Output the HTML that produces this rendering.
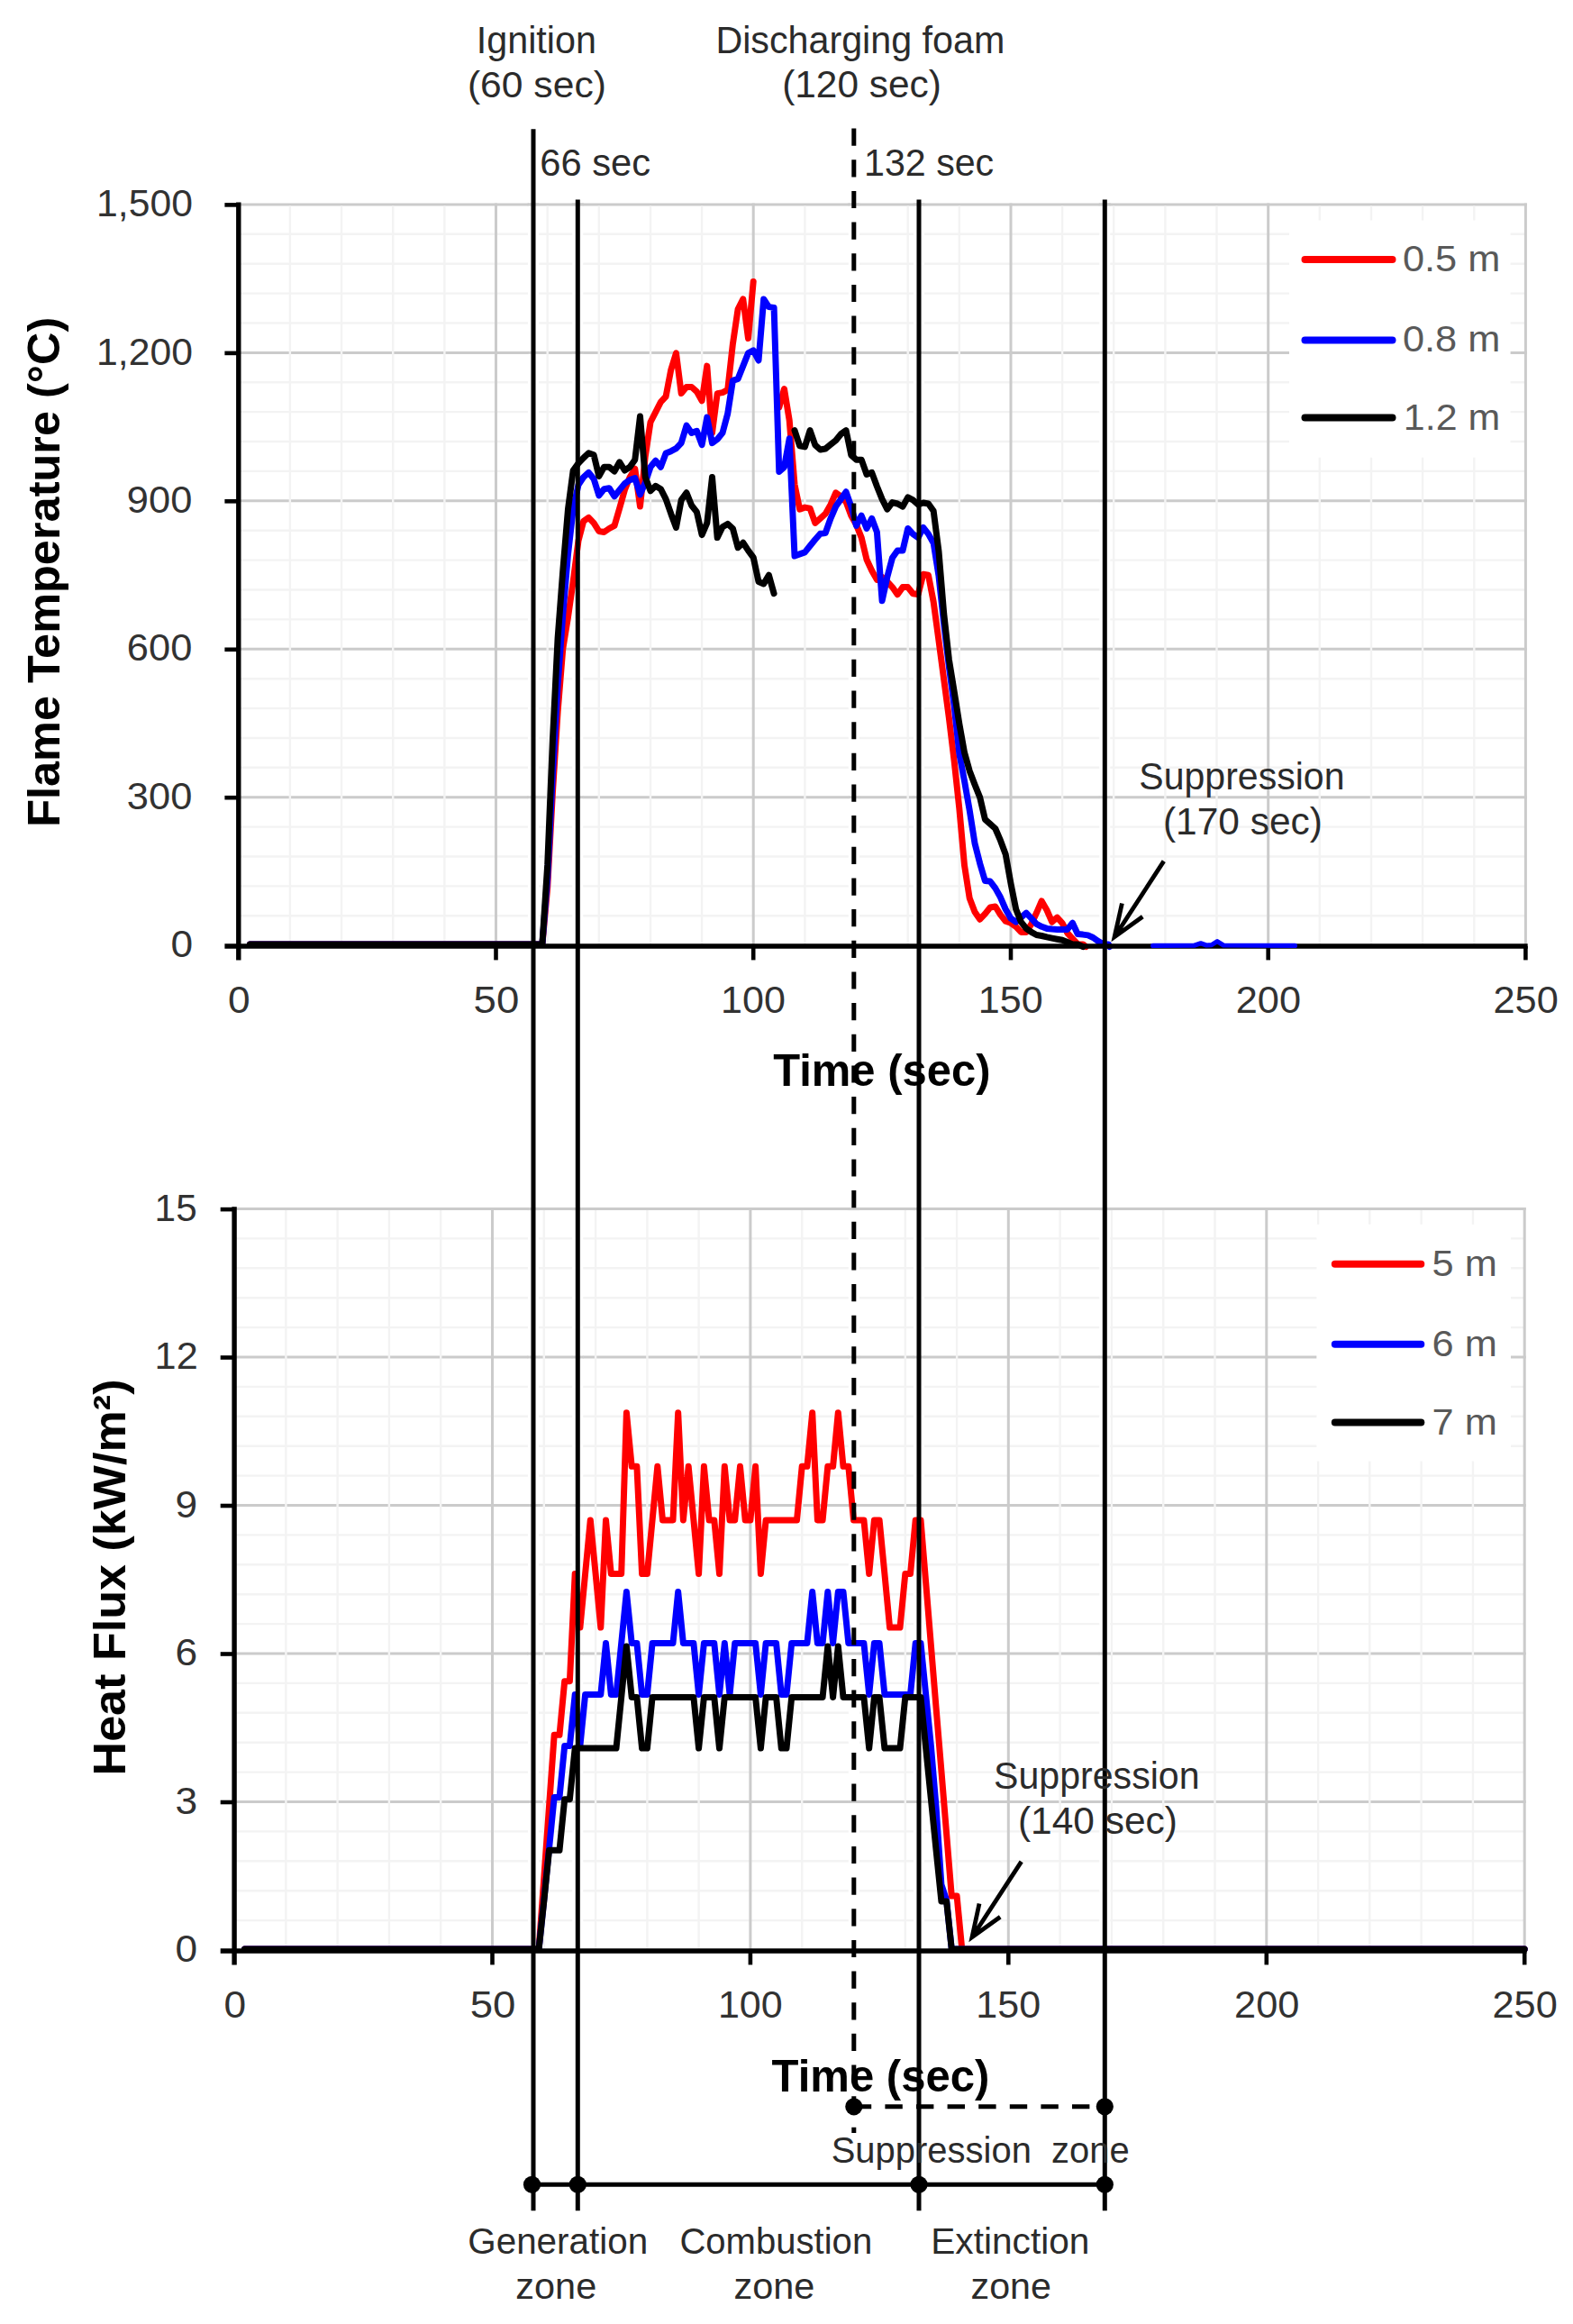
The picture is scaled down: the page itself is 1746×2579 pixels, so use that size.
<!DOCTYPE html>
<html lang="en"><head><meta charset="utf-8"><title>Flame temperature and heat flux</title>
<style>html,body{margin:0;padding:0;background:#fff}svg{display:block}</style></head>
<body>
<svg width="1746" height="2579" viewBox="0 0 1746 2579" font-family='"Liberation Sans", sans-serif'>
<rect width="1746" height="2579" fill="#fff"/>
<line x1="264.8" y1="1016.3" x2="1693.4" y2="1016.3" stroke="#f3f3f3" stroke-width="2.4"/>
<line x1="264.8" y1="983.4" x2="1693.4" y2="983.4" stroke="#f3f3f3" stroke-width="2.4"/>
<line x1="264.8" y1="950.5" x2="1693.4" y2="950.5" stroke="#f3f3f3" stroke-width="2.4"/>
<line x1="264.8" y1="917.6" x2="1693.4" y2="917.6" stroke="#f3f3f3" stroke-width="2.4"/>
<line x1="264.8" y1="851.8" x2="1693.4" y2="851.8" stroke="#f3f3f3" stroke-width="2.4"/>
<line x1="264.8" y1="819.0" x2="1693.4" y2="819.0" stroke="#f3f3f3" stroke-width="2.4"/>
<line x1="264.8" y1="786.1" x2="1693.4" y2="786.1" stroke="#f3f3f3" stroke-width="2.4"/>
<line x1="264.8" y1="753.2" x2="1693.4" y2="753.2" stroke="#f3f3f3" stroke-width="2.4"/>
<line x1="264.8" y1="687.4" x2="1693.4" y2="687.4" stroke="#f3f3f3" stroke-width="2.4"/>
<line x1="264.8" y1="654.5" x2="1693.4" y2="654.5" stroke="#f3f3f3" stroke-width="2.4"/>
<line x1="264.8" y1="621.6" x2="1693.4" y2="621.6" stroke="#f3f3f3" stroke-width="2.4"/>
<line x1="264.8" y1="588.7" x2="1693.4" y2="588.7" stroke="#f3f3f3" stroke-width="2.4"/>
<line x1="264.8" y1="522.9" x2="1693.4" y2="522.9" stroke="#f3f3f3" stroke-width="2.4"/>
<line x1="264.8" y1="490.0" x2="1693.4" y2="490.0" stroke="#f3f3f3" stroke-width="2.4"/>
<line x1="264.8" y1="457.1" x2="1693.4" y2="457.1" stroke="#f3f3f3" stroke-width="2.4"/>
<line x1="264.8" y1="424.3" x2="1693.4" y2="424.3" stroke="#f3f3f3" stroke-width="2.4"/>
<line x1="264.8" y1="358.5" x2="1693.4" y2="358.5" stroke="#f3f3f3" stroke-width="2.4"/>
<line x1="264.8" y1="325.6" x2="1693.4" y2="325.6" stroke="#f3f3f3" stroke-width="2.4"/>
<line x1="264.8" y1="292.7" x2="1693.4" y2="292.7" stroke="#f3f3f3" stroke-width="2.4"/>
<line x1="264.8" y1="259.8" x2="1693.4" y2="259.8" stroke="#f3f3f3" stroke-width="2.4"/>
<line x1="264.8" y1="884.7" x2="1694.9" y2="884.7" stroke="#cbcbcb" stroke-width="3.0"/>
<line x1="264.8" y1="720.3" x2="1694.9" y2="720.3" stroke="#cbcbcb" stroke-width="3.0"/>
<line x1="264.8" y1="555.8" x2="1694.9" y2="555.8" stroke="#cbcbcb" stroke-width="3.0"/>
<line x1="264.8" y1="391.4" x2="1694.9" y2="391.4" stroke="#cbcbcb" stroke-width="3.0"/>
<line x1="264.8" y1="226.9" x2="1694.9" y2="226.9" stroke="#cbcbcb" stroke-width="3.0"/>
<line x1="321.9" y1="228.4" x2="321.9" y2="1049.2" stroke="#f3f3f3" stroke-width="2.4"/>
<line x1="379.1" y1="228.4" x2="379.1" y2="1049.2" stroke="#f3f3f3" stroke-width="2.4"/>
<line x1="436.2" y1="228.4" x2="436.2" y2="1049.2" stroke="#f3f3f3" stroke-width="2.4"/>
<line x1="493.4" y1="228.4" x2="493.4" y2="1049.2" stroke="#f3f3f3" stroke-width="2.4"/>
<line x1="607.7" y1="228.4" x2="607.7" y2="1049.2" stroke="#f3f3f3" stroke-width="2.4"/>
<line x1="664.8" y1="228.4" x2="664.8" y2="1049.2" stroke="#f3f3f3" stroke-width="2.4"/>
<line x1="722.0" y1="228.4" x2="722.0" y2="1049.2" stroke="#f3f3f3" stroke-width="2.4"/>
<line x1="779.1" y1="228.4" x2="779.1" y2="1049.2" stroke="#f3f3f3" stroke-width="2.4"/>
<line x1="893.4" y1="228.4" x2="893.4" y2="1049.2" stroke="#f3f3f3" stroke-width="2.4"/>
<line x1="950.5" y1="228.4" x2="950.5" y2="1049.2" stroke="#f3f3f3" stroke-width="2.4"/>
<line x1="1007.7" y1="228.4" x2="1007.7" y2="1049.2" stroke="#f3f3f3" stroke-width="2.4"/>
<line x1="1064.8" y1="228.4" x2="1064.8" y2="1049.2" stroke="#f3f3f3" stroke-width="2.4"/>
<line x1="1179.1" y1="228.4" x2="1179.1" y2="1049.2" stroke="#f3f3f3" stroke-width="2.4"/>
<line x1="1236.2" y1="228.4" x2="1236.2" y2="1049.2" stroke="#f3f3f3" stroke-width="2.4"/>
<line x1="1293.4" y1="228.4" x2="1293.4" y2="1049.2" stroke="#f3f3f3" stroke-width="2.4"/>
<line x1="1350.5" y1="228.4" x2="1350.5" y2="1049.2" stroke="#f3f3f3" stroke-width="2.4"/>
<line x1="1464.8" y1="228.4" x2="1464.8" y2="1049.2" stroke="#f3f3f3" stroke-width="2.4"/>
<line x1="1522.0" y1="228.4" x2="1522.0" y2="1049.2" stroke="#f3f3f3" stroke-width="2.4"/>
<line x1="1579.1" y1="228.4" x2="1579.1" y2="1049.2" stroke="#f3f3f3" stroke-width="2.4"/>
<line x1="1636.3" y1="228.4" x2="1636.3" y2="1049.2" stroke="#f3f3f3" stroke-width="2.4"/>
<line x1="592" y1="228.4" x2="592" y2="1049.2" stroke="#fff" stroke-width="12"/>
<line x1="641.3" y1="228.4" x2="641.3" y2="1049.2" stroke="#fff" stroke-width="12"/>
<line x1="947.8" y1="228.4" x2="947.8" y2="1049.2" stroke="#fff" stroke-width="12"/>
<line x1="1020" y1="228.4" x2="1020" y2="1049.2" stroke="#fff" stroke-width="12"/>
<line x1="1226.3" y1="228.4" x2="1226.3" y2="1049.2" stroke="#fff" stroke-width="12"/>
<line x1="550.5" y1="225.4" x2="550.5" y2="1049.2" stroke="#cbcbcb" stroke-width="3.0"/>
<line x1="836.2" y1="225.4" x2="836.2" y2="1049.2" stroke="#cbcbcb" stroke-width="3.0"/>
<line x1="1122.0" y1="225.4" x2="1122.0" y2="1049.2" stroke="#cbcbcb" stroke-width="3.0"/>
<line x1="1407.7" y1="225.4" x2="1407.7" y2="1049.2" stroke="#cbcbcb" stroke-width="3.0"/>
<line x1="1693.4" y1="225.4" x2="1693.4" y2="1049.2" stroke="#cbcbcb" stroke-width="3.0"/>
<line x1="585.5" y1="884.7" x2="598.5" y2="884.7" stroke="#cbcbcb" stroke-width="3.0"/>
<line x1="634.8" y1="884.7" x2="647.8" y2="884.7" stroke="#cbcbcb" stroke-width="3.0"/>
<line x1="941.3" y1="884.7" x2="954.3" y2="884.7" stroke="#cbcbcb" stroke-width="3.0"/>
<line x1="1013.5" y1="884.7" x2="1026.5" y2="884.7" stroke="#cbcbcb" stroke-width="3.0"/>
<line x1="1219.8" y1="884.7" x2="1232.8" y2="884.7" stroke="#cbcbcb" stroke-width="3.0"/>
<line x1="585.5" y1="720.3" x2="598.5" y2="720.3" stroke="#cbcbcb" stroke-width="3.0"/>
<line x1="634.8" y1="720.3" x2="647.8" y2="720.3" stroke="#cbcbcb" stroke-width="3.0"/>
<line x1="941.3" y1="720.3" x2="954.3" y2="720.3" stroke="#cbcbcb" stroke-width="3.0"/>
<line x1="1013.5" y1="720.3" x2="1026.5" y2="720.3" stroke="#cbcbcb" stroke-width="3.0"/>
<line x1="1219.8" y1="720.3" x2="1232.8" y2="720.3" stroke="#cbcbcb" stroke-width="3.0"/>
<line x1="585.5" y1="555.8" x2="598.5" y2="555.8" stroke="#cbcbcb" stroke-width="3.0"/>
<line x1="634.8" y1="555.8" x2="647.8" y2="555.8" stroke="#cbcbcb" stroke-width="3.0"/>
<line x1="941.3" y1="555.8" x2="954.3" y2="555.8" stroke="#cbcbcb" stroke-width="3.0"/>
<line x1="1013.5" y1="555.8" x2="1026.5" y2="555.8" stroke="#cbcbcb" stroke-width="3.0"/>
<line x1="1219.8" y1="555.8" x2="1232.8" y2="555.8" stroke="#cbcbcb" stroke-width="3.0"/>
<line x1="585.5" y1="391.4" x2="598.5" y2="391.4" stroke="#cbcbcb" stroke-width="3.0"/>
<line x1="634.8" y1="391.4" x2="647.8" y2="391.4" stroke="#cbcbcb" stroke-width="3.0"/>
<line x1="941.3" y1="391.4" x2="954.3" y2="391.4" stroke="#cbcbcb" stroke-width="3.0"/>
<line x1="1013.5" y1="391.4" x2="1026.5" y2="391.4" stroke="#cbcbcb" stroke-width="3.0"/>
<line x1="1219.8" y1="391.4" x2="1232.8" y2="391.4" stroke="#cbcbcb" stroke-width="3.0"/>
<line x1="585.5" y1="226.9" x2="598.5" y2="226.9" stroke="#cbcbcb" stroke-width="3.0"/>
<line x1="634.8" y1="226.9" x2="647.8" y2="226.9" stroke="#cbcbcb" stroke-width="3.0"/>
<line x1="941.3" y1="226.9" x2="954.3" y2="226.9" stroke="#cbcbcb" stroke-width="3.0"/>
<line x1="1013.5" y1="226.9" x2="1026.5" y2="226.9" stroke="#cbcbcb" stroke-width="3.0"/>
<line x1="1219.8" y1="226.9" x2="1232.8" y2="226.9" stroke="#cbcbcb" stroke-width="3.0"/>
<rect x="1431" y="244.5" width="245.6" height="263.2" fill="#fff"/>
<line x1="1448.5" y1="288" x2="1545.5" y2="288" stroke="#ff0000" stroke-width="8" stroke-linecap="round"/>
<line x1="1448.5" y1="377.4" x2="1545.5" y2="377.4" stroke="#0000ff" stroke-width="8" stroke-linecap="round"/>
<line x1="1448.5" y1="463.6" x2="1545.5" y2="463.6" stroke="#000" stroke-width="8" stroke-linecap="round"/>
<line x1="260.1" y1="2131.1" x2="1692.2" y2="2131.1" stroke="#f3f3f3" stroke-width="2.4"/>
<line x1="260.1" y1="2098.2" x2="1692.2" y2="2098.2" stroke="#f3f3f3" stroke-width="2.4"/>
<line x1="260.1" y1="2065.3" x2="1692.2" y2="2065.3" stroke="#f3f3f3" stroke-width="2.4"/>
<line x1="260.1" y1="2032.4" x2="1692.2" y2="2032.4" stroke="#f3f3f3" stroke-width="2.4"/>
<line x1="260.1" y1="1966.6" x2="1692.2" y2="1966.6" stroke="#f3f3f3" stroke-width="2.4"/>
<line x1="260.1" y1="1933.7" x2="1692.2" y2="1933.7" stroke="#f3f3f3" stroke-width="2.4"/>
<line x1="260.1" y1="1900.8" x2="1692.2" y2="1900.8" stroke="#f3f3f3" stroke-width="2.4"/>
<line x1="260.1" y1="1867.9" x2="1692.2" y2="1867.9" stroke="#f3f3f3" stroke-width="2.4"/>
<line x1="260.1" y1="1802.1" x2="1692.2" y2="1802.1" stroke="#f3f3f3" stroke-width="2.4"/>
<line x1="260.1" y1="1769.2" x2="1692.2" y2="1769.2" stroke="#f3f3f3" stroke-width="2.4"/>
<line x1="260.1" y1="1736.3" x2="1692.2" y2="1736.3" stroke="#f3f3f3" stroke-width="2.4"/>
<line x1="260.1" y1="1703.4" x2="1692.2" y2="1703.4" stroke="#f3f3f3" stroke-width="2.4"/>
<line x1="260.1" y1="1637.6" x2="1692.2" y2="1637.6" stroke="#f3f3f3" stroke-width="2.4"/>
<line x1="260.1" y1="1604.7" x2="1692.2" y2="1604.7" stroke="#f3f3f3" stroke-width="2.4"/>
<line x1="260.1" y1="1571.8" x2="1692.2" y2="1571.8" stroke="#f3f3f3" stroke-width="2.4"/>
<line x1="260.1" y1="1538.9" x2="1692.2" y2="1538.9" stroke="#f3f3f3" stroke-width="2.4"/>
<line x1="260.1" y1="1473.1" x2="1692.2" y2="1473.1" stroke="#f3f3f3" stroke-width="2.4"/>
<line x1="260.1" y1="1440.2" x2="1692.2" y2="1440.2" stroke="#f3f3f3" stroke-width="2.4"/>
<line x1="260.1" y1="1407.3" x2="1692.2" y2="1407.3" stroke="#f3f3f3" stroke-width="2.4"/>
<line x1="260.1" y1="1374.4" x2="1692.2" y2="1374.4" stroke="#f3f3f3" stroke-width="2.4"/>
<line x1="260.1" y1="1999.5" x2="1693.7" y2="1999.5" stroke="#cbcbcb" stroke-width="3.0"/>
<line x1="260.1" y1="1835.0" x2="1693.7" y2="1835.0" stroke="#cbcbcb" stroke-width="3.0"/>
<line x1="260.1" y1="1670.5" x2="1693.7" y2="1670.5" stroke="#cbcbcb" stroke-width="3.0"/>
<line x1="260.1" y1="1506.0" x2="1693.7" y2="1506.0" stroke="#cbcbcb" stroke-width="3.0"/>
<line x1="260.1" y1="1341.6" x2="1693.7" y2="1341.6" stroke="#cbcbcb" stroke-width="3.0"/>
<line x1="317.4" y1="1343.1" x2="317.4" y2="2164.0" stroke="#f3f3f3" stroke-width="2.4"/>
<line x1="374.6" y1="1343.1" x2="374.6" y2="2164.0" stroke="#f3f3f3" stroke-width="2.4"/>
<line x1="431.9" y1="1343.1" x2="431.9" y2="2164.0" stroke="#f3f3f3" stroke-width="2.4"/>
<line x1="489.2" y1="1343.1" x2="489.2" y2="2164.0" stroke="#f3f3f3" stroke-width="2.4"/>
<line x1="603.8" y1="1343.1" x2="603.8" y2="2164.0" stroke="#f3f3f3" stroke-width="2.4"/>
<line x1="661.1" y1="1343.1" x2="661.1" y2="2164.0" stroke="#f3f3f3" stroke-width="2.4"/>
<line x1="718.4" y1="1343.1" x2="718.4" y2="2164.0" stroke="#f3f3f3" stroke-width="2.4"/>
<line x1="775.6" y1="1343.1" x2="775.6" y2="2164.0" stroke="#f3f3f3" stroke-width="2.4"/>
<line x1="890.2" y1="1343.1" x2="890.2" y2="2164.0" stroke="#f3f3f3" stroke-width="2.4"/>
<line x1="947.5" y1="1343.1" x2="947.5" y2="2164.0" stroke="#f3f3f3" stroke-width="2.4"/>
<line x1="1004.8" y1="1343.1" x2="1004.8" y2="2164.0" stroke="#f3f3f3" stroke-width="2.4"/>
<line x1="1062.1" y1="1343.1" x2="1062.1" y2="2164.0" stroke="#f3f3f3" stroke-width="2.4"/>
<line x1="1176.6" y1="1343.1" x2="1176.6" y2="2164.0" stroke="#f3f3f3" stroke-width="2.4"/>
<line x1="1233.9" y1="1343.1" x2="1233.9" y2="2164.0" stroke="#f3f3f3" stroke-width="2.4"/>
<line x1="1291.2" y1="1343.1" x2="1291.2" y2="2164.0" stroke="#f3f3f3" stroke-width="2.4"/>
<line x1="1348.5" y1="1343.1" x2="1348.5" y2="2164.0" stroke="#f3f3f3" stroke-width="2.4"/>
<line x1="1463.1" y1="1343.1" x2="1463.1" y2="2164.0" stroke="#f3f3f3" stroke-width="2.4"/>
<line x1="1520.3" y1="1343.1" x2="1520.3" y2="2164.0" stroke="#f3f3f3" stroke-width="2.4"/>
<line x1="1577.6" y1="1343.1" x2="1577.6" y2="2164.0" stroke="#f3f3f3" stroke-width="2.4"/>
<line x1="1634.9" y1="1343.1" x2="1634.9" y2="2164.0" stroke="#f3f3f3" stroke-width="2.4"/>
<line x1="592" y1="1343.1" x2="592" y2="2164.0" stroke="#fff" stroke-width="12"/>
<line x1="641.3" y1="1343.1" x2="641.3" y2="2164.0" stroke="#fff" stroke-width="12"/>
<line x1="947.8" y1="1343.1" x2="947.8" y2="2164.0" stroke="#fff" stroke-width="12"/>
<line x1="1020" y1="1343.1" x2="1020" y2="2164.0" stroke="#fff" stroke-width="12"/>
<line x1="1226.3" y1="1343.1" x2="1226.3" y2="2164.0" stroke="#fff" stroke-width="12"/>
<line x1="546.5" y1="1340.1" x2="546.5" y2="2164.0" stroke="#cbcbcb" stroke-width="3.0"/>
<line x1="832.9" y1="1340.1" x2="832.9" y2="2164.0" stroke="#cbcbcb" stroke-width="3.0"/>
<line x1="1119.3" y1="1340.1" x2="1119.3" y2="2164.0" stroke="#cbcbcb" stroke-width="3.0"/>
<line x1="1405.8" y1="1340.1" x2="1405.8" y2="2164.0" stroke="#cbcbcb" stroke-width="3.0"/>
<line x1="1692.2" y1="1340.1" x2="1692.2" y2="2164.0" stroke="#cbcbcb" stroke-width="3.0"/>
<line x1="585.5" y1="1999.5" x2="598.5" y2="1999.5" stroke="#cbcbcb" stroke-width="3.0"/>
<line x1="634.8" y1="1999.5" x2="647.8" y2="1999.5" stroke="#cbcbcb" stroke-width="3.0"/>
<line x1="941.3" y1="1999.5" x2="954.3" y2="1999.5" stroke="#cbcbcb" stroke-width="3.0"/>
<line x1="1013.5" y1="1999.5" x2="1026.5" y2="1999.5" stroke="#cbcbcb" stroke-width="3.0"/>
<line x1="1219.8" y1="1999.5" x2="1232.8" y2="1999.5" stroke="#cbcbcb" stroke-width="3.0"/>
<line x1="585.5" y1="1835.0" x2="598.5" y2="1835.0" stroke="#cbcbcb" stroke-width="3.0"/>
<line x1="634.8" y1="1835.0" x2="647.8" y2="1835.0" stroke="#cbcbcb" stroke-width="3.0"/>
<line x1="941.3" y1="1835.0" x2="954.3" y2="1835.0" stroke="#cbcbcb" stroke-width="3.0"/>
<line x1="1013.5" y1="1835.0" x2="1026.5" y2="1835.0" stroke="#cbcbcb" stroke-width="3.0"/>
<line x1="1219.8" y1="1835.0" x2="1232.8" y2="1835.0" stroke="#cbcbcb" stroke-width="3.0"/>
<line x1="585.5" y1="1670.5" x2="598.5" y2="1670.5" stroke="#cbcbcb" stroke-width="3.0"/>
<line x1="634.8" y1="1670.5" x2="647.8" y2="1670.5" stroke="#cbcbcb" stroke-width="3.0"/>
<line x1="941.3" y1="1670.5" x2="954.3" y2="1670.5" stroke="#cbcbcb" stroke-width="3.0"/>
<line x1="1013.5" y1="1670.5" x2="1026.5" y2="1670.5" stroke="#cbcbcb" stroke-width="3.0"/>
<line x1="1219.8" y1="1670.5" x2="1232.8" y2="1670.5" stroke="#cbcbcb" stroke-width="3.0"/>
<line x1="585.5" y1="1506.0" x2="598.5" y2="1506.0" stroke="#cbcbcb" stroke-width="3.0"/>
<line x1="634.8" y1="1506.0" x2="647.8" y2="1506.0" stroke="#cbcbcb" stroke-width="3.0"/>
<line x1="941.3" y1="1506.0" x2="954.3" y2="1506.0" stroke="#cbcbcb" stroke-width="3.0"/>
<line x1="1013.5" y1="1506.0" x2="1026.5" y2="1506.0" stroke="#cbcbcb" stroke-width="3.0"/>
<line x1="1219.8" y1="1506.0" x2="1232.8" y2="1506.0" stroke="#cbcbcb" stroke-width="3.0"/>
<line x1="585.5" y1="1341.6" x2="598.5" y2="1341.6" stroke="#cbcbcb" stroke-width="3.0"/>
<line x1="634.8" y1="1341.6" x2="647.8" y2="1341.6" stroke="#cbcbcb" stroke-width="3.0"/>
<line x1="941.3" y1="1341.6" x2="954.3" y2="1341.6" stroke="#cbcbcb" stroke-width="3.0"/>
<line x1="1013.5" y1="1341.6" x2="1026.5" y2="1341.6" stroke="#cbcbcb" stroke-width="3.0"/>
<line x1="1219.8" y1="1341.6" x2="1232.8" y2="1341.6" stroke="#cbcbcb" stroke-width="3.0"/>
<rect x="1461.4" y="1358.7" width="215.6" height="262.9" fill="#fff"/>
<line x1="1481.8" y1="1402.7" x2="1577.3" y2="1402.7" stroke="#ff0000" stroke-width="8" stroke-linecap="round"/>
<line x1="1481.8" y1="1491.8" x2="1577.3" y2="1491.8" stroke="#0000ff" stroke-width="8" stroke-linecap="round"/>
<line x1="1481.8" y1="1578.4" x2="1577.3" y2="1578.4" stroke="#000" stroke-width="8" stroke-linecap="round"/>
<polyline points="277.4,1047.9 601.9,1047.9 607.7,985.0 613.4,880.0 619.1,790.0 624.8,720.0 630.5,685.0 636.2,645.0 642.0,600.0 647.7,578.3 653.4,574.3 659.1,580.4 664.8,589.5 670.5,590.5 676.2,586.5 682.0,583.4 687.7,564.1 693.4,543.7 699.1,529.5 704.8,520.3 710.5,562.1 716.2,507.1 722.0,468.5 727.7,457.3 733.4,446.1 739.1,440.0 744.8,410.2 750.5,391.9 756.2,436.6 762.0,429.5 767.7,429.5 773.4,434.6 779.1,444.8 784.8,406.1 790.5,480.4 796.2,436.6 802.0,435.6 807.7,432.6 813.4,381.7 819.1,343.1 824.8,331.9 830.5,375.6 836.2,312.5" fill="none" stroke="#ff0000" stroke-width="7" stroke-linejoin="round" stroke-linecap="round"/>
<polyline points="864.8,452.0 870.5,431.5 876.2,466.4 882.0,537.6 887.7,565.1 893.4,563.1 899.1,564.1 904.8,580.4 910.5,575.3 916.2,570.2 922.0,560.0 927.7,546.8 933.4,550.9 939.1,557.0 944.8,572.2 950.5,582.4 956.2,596.6 962.0,621.0 967.7,633.2 973.4,643.4 979.1,640.4 984.8,645.5 990.5,651.6 996.2,659.7 1002.0,651.6 1007.7,651.6 1013.4,658.7 1019.1,659.7 1024.8,637.3 1030.5,638.3 1036.2,668.0 1042.0,711.0 1047.7,754.0 1053.4,797.0 1059.1,844.2 1064.8,897.1 1070.5,960.2 1076.2,996.8 1082.0,1012.1 1087.7,1020.2 1093.4,1014.1 1099.1,1007.0 1104.8,1006.0 1110.5,1015.1 1116.2,1022.2 1122.0,1024.3 1127.7,1028.3 1133.4,1034.4 1139.1,1034.4 1144.8,1025.3 1150.5,1013.1 1156.2,999.9 1162.0,1010.0 1167.7,1023.2 1173.4,1018.2 1179.1,1024.3 1184.8,1035.5 1190.5,1041.6 1196.2,1047.7 1202.0,1047.9 1205.4,1050.5" fill="none" stroke="#ff0000" stroke-width="7" stroke-linejoin="round" stroke-linecap="round"/>
<polyline points="277.4,1047.9 601.9,1047.9 607.7,975.0 613.4,860.0 619.1,760.0 624.8,682.0 630.5,615.0 636.2,565.0 642.0,538.0 647.7,529.5 653.4,524.4 659.1,531.5 664.8,549.8 670.5,542.7 676.2,541.7 682.0,550.9 687.7,543.7 693.4,536.6 699.1,532.6 704.8,530.5 710.5,548.8 716.2,535.6 722.0,518.3 727.7,511.2 733.4,518.3 739.1,503.1 744.8,500.7 750.5,497.7 756.2,491.6 762.0,472.2 767.7,480.4 773.4,478.3 779.1,493.6 784.8,463.1 790.5,491.6 796.2,487.5 802.0,480.4 807.7,459.0 813.4,422.4 819.1,420.4 824.8,406.1 830.5,391.9 836.2,388.8 842.0,400.0 847.7,331.9 853.4,340.6 859.1,341.4 864.8,523.4 870.5,518.3 876.2,486.8 882.0,617.0 887.7,614.9 893.4,612.9 899.1,605.8 904.8,598.7 910.5,592.2 916.2,591.5 922.0,575.3 927.7,562.1 933.4,553.9 939.1,545.8 944.8,562.1 950.5,583.4 956.2,572.2 962.0,586.5 967.7,575.3 973.4,590.5 979.1,666.8 984.8,640.4 990.5,619.0 996.2,610.9 1002.0,610.9 1007.7,586.5 1013.4,592.6 1019.1,596.6 1024.8,585.4 1030.5,592.6 1036.2,602.7 1042.0,639.3 1047.7,692.0 1053.4,740.0 1059.1,783.0 1064.8,836.1 1070.5,866.6 1076.2,899.2 1082.0,935.8 1087.7,958.2 1093.4,977.5 1099.1,978.1 1104.8,985.6 1110.5,995.8 1116.2,1009.0 1122.0,1019.2 1127.7,1023.2 1133.4,1018.2 1139.1,1013.1 1144.8,1019.2 1150.5,1025.3 1156.2,1028.3 1162.0,1030.4 1167.7,1031.0 1173.4,1031.4 1179.1,1031.4 1184.8,1031.4 1190.5,1024.3 1196.2,1036.5 1202.0,1037.1 1207.7,1037.9 1213.4,1040.5 1219.1,1044.6 1224.8,1047.9 1230.5,1047.9 1231.7,1050.5" fill="none" stroke="#0000ff" stroke-width="7" stroke-linejoin="round" stroke-linecap="round"/>
<polyline points="277.4,1047.9 601.9,1047.9 607.7,960.0 613.4,822.0 619.1,708.0 624.8,633.0 630.5,565.0 636.2,522.0 642.0,514.2 647.7,508.1 653.4,502.7 659.1,504.7 664.8,528.5 670.5,518.3 676.2,518.3 682.0,523.0 687.7,512.8 693.4,522.0 699.1,518.3 704.8,510.2 710.5,462.0 716.2,529.5 722.0,544.8 727.7,539.3 733.4,542.7 739.1,553.9 744.8,570.2 750.5,585.4 756.2,554.9 762.0,546.8 767.7,561.0 773.4,568.2 779.1,593.6 784.8,580.4 790.5,529.5 796.2,596.6 802.0,584.8 807.7,581.4 813.4,586.5 819.1,607.8 824.8,602.3 830.5,610.9 836.2,618.6 842.0,645.5 847.7,647.9 853.4,638.3 859.1,658.7" fill="none" stroke="#000" stroke-width="7" stroke-linejoin="round" stroke-linecap="round"/>
<polyline points="882.0,477.6 887.7,494.9 893.4,495.9 899.1,477.6 904.8,493.9 910.5,499.0 916.2,498.0 922.0,493.3 927.7,488.8 933.4,481.7 939.1,477.6 944.8,505.1 950.5,510.2 956.2,510.2 962.0,526.5 967.7,524.4 973.4,539.7 979.1,553.9 984.8,565.1 990.5,557.6 996.2,559.0 1002.0,562.1 1007.7,551.9 1013.4,554.9 1019.1,560.0 1024.8,558.0 1030.5,559.0 1036.2,567.1 1042.0,612.0 1047.7,681.0 1053.4,732.0 1059.1,767.0 1064.8,803.0 1070.5,835.0 1076.2,855.4 1082.0,870.7 1087.7,884.9 1093.4,909.3 1099.1,914.4 1104.8,919.5 1110.5,932.7 1116.2,948.0 1122.0,980.5 1127.7,1009.0 1133.4,1023.2 1139.1,1030.4 1144.8,1034.4 1150.5,1037.5 1156.2,1038.5 1162.0,1039.9 1167.7,1041.1 1173.4,1042.2 1179.1,1043.2 1184.8,1045.6 1190.5,1047.9 1196.2,1047.9 1202.0,1050.5" fill="none" stroke="#000" stroke-width="7" stroke-linejoin="round" stroke-linecap="round"/>
<polyline points="271.5,2163.0 598.1,2163.0 603.8,2084.2 609.5,2004.8 615.2,1925.3 621.0,1925.3 626.7,1865.7 632.4,1865.7 638.2,1746.5 643.9,1806.1 649.6,1746.5 655.3,1686.9 661.1,1746.5 666.8,1806.1 672.5,1686.9 678.3,1746.5 684.0,1746.5 689.7,1746.5 695.4,1567.7 701.2,1627.3 706.9,1627.3 712.6,1746.5 718.4,1746.5 724.1,1686.9 729.8,1627.3 735.5,1686.9 741.3,1686.9 747.0,1686.9 752.7,1567.7 758.4,1686.9 764.2,1627.3 769.9,1686.9 775.6,1746.5 781.4,1627.3 787.1,1686.9 792.8,1686.9 798.5,1746.5 804.3,1627.3 810.0,1686.9 815.7,1686.9 821.5,1627.3 827.2,1686.9 832.9,1686.9 838.6,1627.3 844.4,1746.5 850.1,1686.9 855.8,1686.9 861.6,1686.9 867.3,1686.9 873.0,1686.9 878.7,1686.9 884.5,1686.9 890.2,1627.3 895.9,1627.3 901.7,1567.7 907.4,1686.9 913.1,1686.9 918.8,1627.3 924.6,1627.3 930.3,1567.7 936.0,1627.3 941.8,1627.3 947.5,1686.9 953.2,1686.9 958.9,1686.9 964.7,1746.5 970.4,1686.9 976.1,1686.9 981.9,1746.5 987.6,1806.1 993.3,1806.1 999.0,1806.1 1004.8,1746.5 1010.5,1746.5 1016.2,1686.9 1022.0,1686.9 1027.7,1756.4 1033.4,1826.0 1039.1,1895.5 1044.9,1965.0 1050.6,2034.6 1056.3,2104.1 1062.1,2104.1 1067.8,2163.0 1692.2,2163.0" fill="none" stroke="#ff0000" stroke-width="7" stroke-linejoin="round" stroke-linecap="round"/>
<polyline points="271.5,2163.0 598.1,2163.0 603.8,2108.5 609.5,2051.5 615.2,1994.5 621.0,1994.5 626.7,1937.5 632.4,1937.5 638.2,1880.5 643.9,1937.5 649.6,1880.5 655.3,1880.5 661.1,1880.5 666.8,1880.5 672.5,1823.5 678.3,1880.5 684.0,1880.5 689.7,1823.5 695.4,1766.5 701.2,1823.5 706.9,1823.5 712.6,1880.5 718.4,1880.5 724.1,1823.5 729.8,1823.5 735.5,1823.5 741.3,1823.5 747.0,1823.5 752.7,1766.5 758.4,1823.5 764.2,1823.5 769.9,1823.5 775.6,1880.5 781.4,1823.5 787.1,1823.5 792.8,1823.5 798.5,1880.5 804.3,1823.5 810.0,1880.5 815.7,1823.5 821.5,1823.5 827.2,1823.5 832.9,1823.5 838.6,1823.5 844.4,1880.5 850.1,1823.5 855.8,1823.5 861.6,1823.5 867.3,1880.5 873.0,1880.5 878.7,1823.5 884.5,1823.5 890.2,1823.5 895.9,1823.5 901.7,1766.5 907.4,1823.5 913.1,1823.5 918.8,1766.5 924.6,1823.5 930.3,1766.5 936.0,1766.5 941.8,1823.5 947.5,1823.5 953.2,1823.5 958.9,1823.5 964.7,1880.5 970.4,1823.5 976.1,1823.5 981.9,1880.5 987.6,1880.5 993.3,1880.5 999.0,1880.5 1004.8,1880.5 1010.5,1880.5 1016.2,1823.5 1022.0,1823.5 1027.7,1880.5 1033.4,1937.5 1039.1,2005.9 1044.9,2091.4 1050.6,2108.5 1056.3,2163.0 1692.2,2163.0" fill="none" stroke="#0000ff" stroke-width="7" stroke-linejoin="round" stroke-linecap="round"/>
<polyline points="271.5,2163.0 598.1,2163.0 603.8,2109.9 609.5,2053.3 615.2,2053.3 621.0,2053.3 626.7,1996.7 632.4,1996.7 638.2,1940.1 643.9,1940.1 649.6,1940.1 655.3,1940.1 661.1,1940.1 666.8,1940.1 672.5,1940.1 678.3,1940.1 684.0,1940.1 689.7,1883.5 695.4,1826.9 701.2,1883.5 706.9,1883.5 712.6,1940.1 718.4,1940.1 724.1,1883.5 729.8,1883.5 735.5,1883.5 741.3,1883.5 747.0,1883.5 752.7,1883.5 758.4,1883.5 764.2,1883.5 769.9,1883.5 775.6,1940.1 781.4,1883.5 787.1,1883.5 792.8,1883.5 798.5,1940.1 804.3,1883.5 810.0,1883.5 815.7,1883.5 821.5,1883.5 827.2,1883.5 832.9,1883.5 838.6,1883.5 844.4,1940.1 850.1,1883.5 855.8,1883.5 861.6,1883.5 867.3,1940.1 873.0,1940.1 878.7,1883.5 884.5,1883.5 890.2,1883.5 895.9,1883.5 901.7,1883.5 907.4,1883.5 913.1,1883.5 918.8,1826.9 924.6,1883.5 930.3,1826.9 936.0,1883.5 941.8,1883.5 947.5,1883.5 953.2,1883.5 958.9,1883.5 964.7,1940.1 970.4,1883.5 976.1,1883.5 981.9,1940.1 987.6,1940.1 993.3,1940.1 999.0,1940.1 1004.8,1883.5 1010.5,1883.5 1016.2,1883.5 1022.0,1883.5 1027.7,1940.1 1033.4,1996.7 1039.1,2053.3 1044.9,2109.9 1050.6,2109.9 1056.3,2163.0 1692.2,2163.0" fill="none" stroke="#000" stroke-width="7" stroke-linejoin="round" stroke-linecap="round"/>
<line x1="264.8" y1="224.6" x2="264.8" y2="1065.4" stroke="#000" stroke-width="5.4"/>
<line x1="249.4" y1="885.2" x2="264.8" y2="885.2" stroke="#000" stroke-width="4.6"/>
<line x1="249.4" y1="720.8" x2="264.8" y2="720.8" stroke="#000" stroke-width="4.6"/>
<line x1="249.4" y1="556.3" x2="264.8" y2="556.3" stroke="#000" stroke-width="4.6"/>
<line x1="249.4" y1="391.9" x2="264.8" y2="391.9" stroke="#000" stroke-width="4.6"/>
<line x1="249.4" y1="227.4" x2="264.8" y2="227.4" stroke="#000" stroke-width="4.6"/>
<line x1="249.4" y1="1050.0" x2="1695.7" y2="1050.0" stroke="#000" stroke-width="5.4"/>
<line x1="550.5" y1="1050.0" x2="550.5" y2="1065.4" stroke="#000" stroke-width="4.6"/>
<line x1="836.2" y1="1050.0" x2="836.2" y2="1065.4" stroke="#000" stroke-width="4.6"/>
<line x1="1122.0" y1="1050.0" x2="1122.0" y2="1065.4" stroke="#000" stroke-width="4.6"/>
<line x1="1407.7" y1="1050.0" x2="1407.7" y2="1065.4" stroke="#000" stroke-width="4.6"/>
<line x1="1693.4" y1="1050.0" x2="1693.4" y2="1065.4" stroke="#000" stroke-width="4.6"/>
<polyline points="1279.7,1049.4 1325.4,1049.2 1332.8,1046.8 1339.1,1049.0 1344.8,1048.6 1351.1,1044.6 1358.0,1049.0 1437.4,1049.4" fill="none" stroke="#0000ff" stroke-width="5.2" stroke-linejoin="round" stroke-linecap="round"/>
<line x1="260.1" y1="1339.3" x2="260.1" y2="2180.4" stroke="#000" stroke-width="5.4"/>
<line x1="244.7" y1="2000.0" x2="260.1" y2="2000.0" stroke="#000" stroke-width="4.6"/>
<line x1="244.7" y1="1835.5" x2="260.1" y2="1835.5" stroke="#000" stroke-width="4.6"/>
<line x1="244.7" y1="1671.0" x2="260.1" y2="1671.0" stroke="#000" stroke-width="4.6"/>
<line x1="244.7" y1="1506.5" x2="260.1" y2="1506.5" stroke="#000" stroke-width="4.6"/>
<line x1="244.7" y1="1342.1" x2="260.1" y2="1342.1" stroke="#000" stroke-width="4.6"/>
<line x1="244.7" y1="2165.0" x2="1694.5" y2="2165.0" stroke="#000" stroke-width="5.4"/>
<line x1="546.5" y1="2165.0" x2="546.5" y2="2180.4" stroke="#000" stroke-width="4.6"/>
<line x1="832.9" y1="2165.0" x2="832.9" y2="2180.4" stroke="#000" stroke-width="4.6"/>
<line x1="1119.3" y1="2165.0" x2="1119.3" y2="2180.4" stroke="#000" stroke-width="4.6"/>
<line x1="1405.8" y1="2165.0" x2="1405.8" y2="2180.4" stroke="#000" stroke-width="4.6"/>
<line x1="1692.2" y1="2165.0" x2="1692.2" y2="2180.4" stroke="#000" stroke-width="4.6"/>
<line x1="592" y1="143.3" x2="592" y2="2453.3" stroke="#000" stroke-width="5"/>
<line x1="641.3" y1="221.6" x2="641.3" y2="2453.3" stroke="#000" stroke-width="5"/>
<line x1="1020" y1="221.6" x2="1020" y2="2453.3" stroke="#000" stroke-width="5"/>
<line x1="1226.3" y1="221.6" x2="1226.3" y2="2453.3" stroke="#000" stroke-width="5"/>
<line x1="947.8" y1="142.6" x2="947.8" y2="2367" stroke="#000" stroke-width="5" stroke-dasharray="19.2 15.46"/>
<line x1="590.5" y1="2424.3" x2="1226.3" y2="2424.3" stroke="#000" stroke-width="5"/>
<line x1="947.8" y1="2337.8" x2="1226.3" y2="2337.8" stroke="#000" stroke-width="5" stroke-dasharray="19.4 15.2"/>
<circle cx="590.5" cy="2424.3" r="9.6" fill="#000"/>
<circle cx="641.3" cy="2424.3" r="9.6" fill="#000"/>
<circle cx="1020" cy="2424.3" r="9.6" fill="#000"/>
<circle cx="1226.3" cy="2424.3" r="9.6" fill="#000"/>
<circle cx="947.8" cy="2337.8" r="9.6" fill="#000"/>
<circle cx="1226.3" cy="2337.8" r="9.6" fill="#000"/>
<path d="M1291.8 955.6 L1237.1 1039.7 M1245.4 1002.6 L1237.1 1039.7 L1268.3 1017.2" fill="none" stroke="#000" stroke-width="4.8" stroke-linecap="butt" stroke-linejoin="miter"/>
<path d="M1133.7 2065.9 L1079.0 2149.7 M1087 2112.6 L1079.0 2149.7 L1110.2 2127.2" fill="none" stroke="#000" stroke-width="4.8" stroke-linecap="butt" stroke-linejoin="miter"/>
<text transform="translate(528.73,58.6) scale(0.9929,1)" font-size="41.6" fill="#2b2b2b" style="white-space:pre">Ignition</text>
<text transform="translate(518.93,108.2) scale(1.0248,1)" font-size="41.6" fill="#2b2b2b" style="white-space:pre">(60 sec)</text>
<text transform="translate(794.43,58.6) scale(0.9915,1)" font-size="41.6" fill="#2b2b2b" style="white-space:pre">Discharging foam</text>
<text transform="translate(868.14,108.0) scale(1.0190,1)" font-size="41.6" fill="#2b2b2b" style="white-space:pre">(120 sec)</text>
<text transform="translate(599.29,194.6) scale(1.0025,1)" font-size="41.6" fill="#2b2b2b" style="white-space:pre">66 sec</text>
<text transform="translate(959.03,194.6) scale(0.9894,1)" font-size="41.6" fill="#2b2b2b" style="white-space:pre">132 sec</text>
<text transform="translate(1264.33,875.5) scale(0.9867,1)" font-size="41.6" fill="#2b2b2b" style="white-space:pre">Suppression</text>
<text transform="translate(1290.94,925.6) scale(1.0214,1)" font-size="41.6" fill="#2b2b2b" style="white-space:pre">(170 sec)</text>
<text transform="translate(1103.02,1985.4) scale(0.9885,1)" font-size="41.6" fill="#2b2b2b" style="white-space:pre">Suppression</text>
<text transform="translate(1129.94,2035.2) scale(1.0208,1)" font-size="41.6" fill="#2b2b2b" style="white-space:pre">(140 sec)</text>
<text transform="translate(922.71,2399.6) scale(0.9942,1)" font-size="40.2" fill="#2b2b2b" style="white-space:pre">Suppression  zone</text>
<text transform="translate(519.19,2500.8) scale(1.0062,1)" font-size="40.2" fill="#2b2b2b" style="white-space:pre">Generation</text>
<text transform="translate(572.23,2550.8) scale(1.0325,1)" font-size="40.2" fill="#2b2b2b" style="white-space:pre">zone</text>
<text transform="translate(754.41,2500.8) scale(0.9967,1)" font-size="40.2" fill="#2b2b2b" style="white-space:pre">Combustion</text>
<text transform="translate(814.54,2550.8) scale(1.0313,1)" font-size="40.2" fill="#2b2b2b" style="white-space:pre">zone</text>
<text transform="translate(1033.27,2500.8) scale(1.0107,1)" font-size="40.2" fill="#2b2b2b" style="white-space:pre">Extinction</text>
<text transform="translate(1077.55,2550.8) scale(1.0253,1)" font-size="40.2" fill="#2b2b2b" style="white-space:pre">zone</text>
<text transform="translate(858.22,1205.2) scale(0.9794,1)" font-size="50" font-weight="bold" fill="#000" style="white-space:pre">Time (sec)</text>
<text transform="translate(856.62,2320.5) scale(0.9815,1)" font-size="50" font-weight="bold" fill="#000" style="white-space:pre">Time (sec)</text>
<text transform="translate(1556.89,301.0) scale(1.0571,1)" font-size="41" fill="#595959" style="white-space:pre">0.5 m</text>
<text transform="translate(1556.89,390.2) scale(1.0571,1)" font-size="41" fill="#595959" style="white-space:pre">0.8 m</text>
<text transform="translate(1557.86,477.2) scale(1.0474,1)" font-size="41" fill="#595959" style="white-space:pre">1.2 m</text>
<text transform="translate(1589.48,1416.2) scale(1.0578,1)" font-size="41" fill="#595959" style="white-space:pre">5 m</text>
<text transform="translate(1589.48,1505.3) scale(1.0578,1)" font-size="41" fill="#595959" style="white-space:pre">6 m</text>
<text transform="translate(1589.48,1591.9) scale(1.0578,1)" font-size="41" fill="#595959" style="white-space:pre">7 m</text>
<text transform="translate(107.09,240.0) scale(1.0020,1)" font-size="42.6" fill="#323232" style="white-space:pre">1,500</text>
<text transform="translate(107.09,404.5) scale(1.0020,1)" font-size="42.6" fill="#323232" style="white-space:pre">1,200</text>
<text transform="translate(140.86,568.9) scale(1.0206,1)" font-size="42.6" fill="#323232" style="white-space:pre">900</text>
<text transform="translate(140.86,733.4) scale(1.0206,1)" font-size="42.6" fill="#323232" style="white-space:pre">600</text>
<text transform="translate(140.86,897.8) scale(1.0206,1)" font-size="42.6" fill="#323232" style="white-space:pre">300</text>
<text transform="translate(189.42,1062.3) scale(1.0400,1)" font-size="42.6" fill="#323232" style="white-space:pre">0</text>
<text transform="translate(171.62,1354.7) scale(0.9930,1)" font-size="42.6" fill="#323232" style="white-space:pre">15</text>
<text transform="translate(171.55,1519.1) scale(1.0167,1)" font-size="42.6" fill="#323232" style="white-space:pre">12</text>
<text transform="translate(194.42,1683.6) scale(1.0400,1)" font-size="42.6" fill="#323232" style="white-space:pre">9</text>
<text transform="translate(194.42,1848.1) scale(1.0400,1)" font-size="42.6" fill="#323232" style="white-space:pre">6</text>
<text transform="translate(194.42,2012.6) scale(1.0400,1)" font-size="42.6" fill="#323232" style="white-space:pre">3</text>
<text transform="translate(194.42,2177.1) scale(1.0400,1)" font-size="42.6" fill="#323232" style="white-space:pre">0</text>
<text transform="translate(253.02,1123.6) scale(1.0400,1)" font-size="42.6" fill="#323232" style="white-space:pre">0</text>
<text transform="translate(248.49,2238.6) scale(1.0400,1)" font-size="42.6" fill="#323232" style="white-space:pre">0</text>
<text transform="translate(525.53,1123.6) scale(1.0705,1)" font-size="42.6" fill="#323232" style="white-space:pre">50</text>
<text transform="translate(521.70,2238.6) scale(1.0705,1)" font-size="42.6" fill="#323232" style="white-space:pre">50</text>
<text transform="translate(800.06,1123.6) scale(1.0104,1)" font-size="42.6" fill="#323232" style="white-space:pre">100</text>
<text transform="translate(796.94,2238.6) scale(1.0104,1)" font-size="42.6" fill="#323232" style="white-space:pre">100</text>
<text transform="translate(1085.78,1123.6) scale(1.0104,1)" font-size="42.6" fill="#323232" style="white-space:pre">150</text>
<text transform="translate(1083.36,2238.6) scale(1.0104,1)" font-size="42.6" fill="#323232" style="white-space:pre">150</text>
<text transform="translate(1371.74,1123.6) scale(1.0176,1)" font-size="42.6" fill="#323232" style="white-space:pre">200</text>
<text transform="translate(1370.03,2238.6) scale(1.0176,1)" font-size="42.6" fill="#323232" style="white-space:pre">200</text>
<text transform="translate(1657.46,1123.6) scale(1.0176,1)" font-size="42.6" fill="#323232" style="white-space:pre">250</text>
<text transform="translate(1656.46,2238.6) scale(1.0176,1)" font-size="42.6" fill="#323232" style="white-space:pre">250</text>
<text transform="translate(66.3,634.8) rotate(-90)" font-size="50" text-anchor="middle" font-weight="bold" fill="#000" textLength="566" lengthAdjust="spacingAndGlyphs">Flame Temperature (°C)</text>
<text transform="translate(139,1750.5) rotate(-90)" font-size="50" text-anchor="middle" font-weight="bold" fill="#000" textLength="440" lengthAdjust="spacingAndGlyphs">Heat Flux (kW/m²)</text>
</svg>
</body></html>
